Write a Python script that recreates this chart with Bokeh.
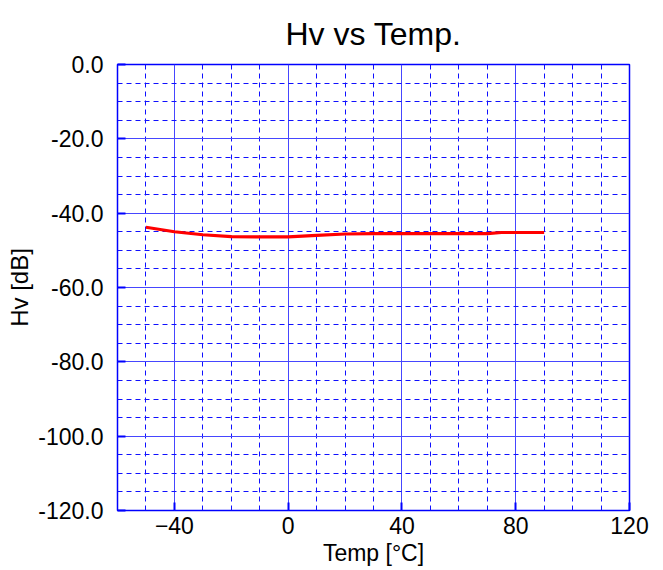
from bokeh.plotting import figure
from bokeh.models import FixedTicker, Range1d, Title, PrintfTickFormatter
from bokeh.embed import file_html
from bokeh.resources import INLINE

temp = [-50, -45, -40, -30, -20, -10, 0, 10, 20, 30, 40, 50, 60, 70, 75, 80, 90]
hv = [-43.8, -44.4, -45.0, -45.8, -46.3, -46.4, -46.4, -46.0, -45.6, -45.5, -45.5, -45.5, -45.5, -45.5, -45.2, -45.2, -45.2]

x_major = [-40, 0, 40, 80, 120]
x_minor = [-50, -30, -20, -10, 10, 20, 30, 50, 60, 70, 90, 100, 110]
y_major = [0, -20, -40, -60, -80, -100, -120]
y_minor = [v for v in range(-115, 0, 5) if v % 20 != 0]
title_text = "Hv vs Temp."

BLUE = "#0000ff"
FONT = "Liberation Sans"

p = figure(width=655, height=568, output_backend="svg", toolbar_location=None,
           x_range=Range1d(-60, 120), y_range=Range1d(-120, 0),
           min_border_left=117, min_border_right=26, min_border_top=63, min_border_bottom=58)
p.title = Title(text=title_text, align="center", text_font=FONT, text_font_size="32px",
                text_font_style="normal", text_color="black", standoff=26)

p.xaxis.ticker = FixedTicker(ticks=x_major, minor_ticks=x_minor)
p.yaxis.ticker = FixedTicker(ticks=y_major, minor_ticks=y_minor)
p.yaxis.formatter = PrintfTickFormatter(format="%.1f")

for ax in (p.xaxis, p.yaxis):
    ax.axis_line_color = None
    ax.major_tick_in = 8
    ax.major_tick_out = 0
    ax.minor_tick_in = 0
    ax.minor_tick_out = 0
    ax.major_tick_line_color = BLUE
    ax.major_tick_line_width = 2
    ax.major_label_text_font = FONT
    ax.major_label_text_font_size = "23px"
    ax.major_label_text_color = "black"
    ax.axis_label_text_font = FONT
    ax.axis_label_text_font_style = "normal"
    ax.axis_label_text_color = "black"

p.xaxis.axis_label = "Temp [°C]"
p.yaxis.axis_label = "Hv [dB]"
p.xaxis.axis_label_text_font_size = "23px"
p.yaxis.axis_label_text_font_size = "24px"
p.xaxis.major_label_standoff = 6
p.yaxis.major_label_standoff = 14
p.xaxis.axis_label_standoff = 3
p.yaxis.axis_label_standoff = 2

for g in (p.xgrid, p.ygrid):
    g.grid_line_color = "#4646ff"
    g.grid_line_alpha = 1.0
    g.grid_line_width = 1
    g.minor_grid_line_color = "#1010ff"
    g.minor_grid_line_dash = "5 4"
    g.minor_grid_line_width = 1

p.outline_line_color = BLUE
p.outline_line_width = 1.5

p.line(temp, hv, line_color="#ff0000", line_width=3.2)

open("out.html", "w").write(file_html(p, INLINE))
